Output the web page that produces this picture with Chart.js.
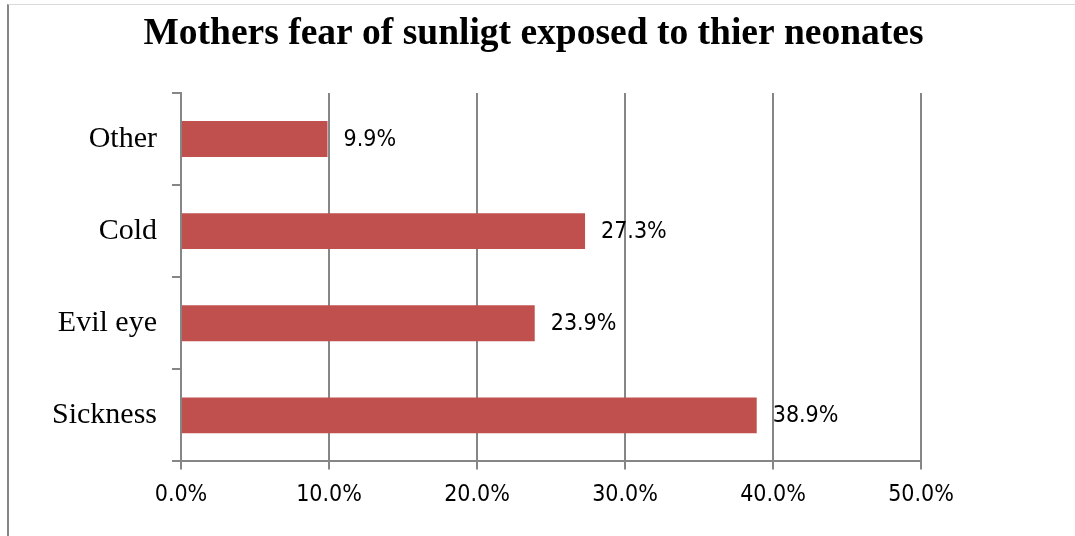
<!DOCTYPE html>
<html>
<head>
<meta charset="utf-8">
<script src="https://cdn.jsdelivr.net/npm/chart.js@4/dist/chart.umd.min.js"></script>
<style>
  html, body { margin: 0; padding: 0; background: #fff; }
  #frame {
    position: absolute; left: 7px; top: 4px; width: 1100px; height: 560px;
    border-left: 2px solid #868686; border-top: 1px solid #d9d9d9;
  }
  #wrap { position: absolute; left: 0; top: 0; width: 1075px; height: 536px; }
</style>
</head>
<body>
<div id="frame"></div>
<div id="wrap"><canvas id="chart" width="1075" height="536"></canvas></div>
<script>
const categories = ["Other", "Cold", "Evil eye", "Sickness"]
const values = [9.9, 27.3, 23.9, 38.9]
const xTicks = [0, 10, 20, 30, 40, 50]

const barColor = "#c0504d"
const axisColor = "#868686"
const sansFont = '"DejaVu Sans Condensed", "DejaVu Sans", sans-serif'
const serifFont = '"Liberation Serif", "Times New Roman", serif'

// value labels to the right of each bar
const barLabels = {
  id: "barLabels",
  afterDatasetsDraw(chart) {
    const { ctx } = chart
    const meta = chart.getDatasetMeta(0)
    ctx.save()
    ctx.font = `23px ${sansFont}`
    ctx.fillStyle = "#000"
    ctx.textAlign = "left"
    ctx.textBaseline = "middle"
    meta.data.forEach((bar, i) => {
      ctx.fillText(values[i].toFixed(1) + "%", bar.x + 16, bar.y + 1)
    })
    ctx.restore()
  }
}

new Chart(document.getElementById("chart").getContext("2d"), {
  type: "bar",
  data: {
    labels: categories,
    datasets: [{
      data: values,
      backgroundColor: barColor,
      borderWidth: 0,
      categoryPercentage: 1,
      barPercentage: 0.39
    }]
  },
  options: {
    indexAxis: "y",
    responsive: false,
    animation: false,
    layout: { padding: { left: 0, right: 8, top: 0, bottom: 15 } },
    plugins: {
      legend: { display: false },
      tooltip: { enabled: false },
      title: {
        display: true,
        text: "Mothers fear of sunligt exposed to thier neonates",
        color: "#000",
        font: { family: serifFont, size: 37.5, weight: "bold", lineHeight: 1.2 },
        padding: { top: 12, bottom: 36 }
      }
    },
    scales: {
      x: {
        min: 0,
        max: 50,
        afterBuildTicks: (scale) => { scale.ticks = xTicks.map(v => ({ value: v })) },
        ticks: {
          color: "#000",
          padding: 12,
          font: { family: sansFont, size: 23, lineHeight: 1.2 },
          callback: (v) => Number(v).toFixed(1) + "%"
        },
        grid: { color: axisColor, lineWidth: 2, tickLength: 8 },
        border: { color: axisColor, width: 2 }
      },
      y: {
        afterFit: (scale) => { scale.width = 181 },
        ticks: {
          color: "#000",
          padding: 15,
          font: { family: serifFont, size: 30, lineHeight: 1.2 }
        },
        grid: { offset: true, drawOnChartArea: false, color: axisColor, lineWidth: 2, tickLength: 9 },
        border: { color: axisColor, width: 2 }
      },
      // empty space on the right of the plot
      yRight: {
        type: "linear",
        position: "right",
        afterFit: (scale) => { scale.width = 146 },
        ticks: { display: false },
        grid: { display: false },
        border: { display: false }
      }
    }
  },
  plugins: [barLabels]
})
</script>
</body>
</html>
